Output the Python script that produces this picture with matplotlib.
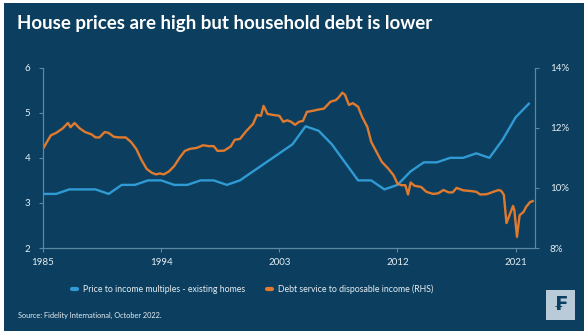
import matplotlib
matplotlib.use("Agg")
import matplotlib.pyplot as plt
from matplotlib.lines import Line2D
from matplotlib.patches import Rectangle

plt.rcParams['font.family'] = ['Lato', 'DejaVu Sans']

# ---- data ----
price_years = list(range(1985, 2023))
price_income = [3.2, 3.2, 3.3, 3.3, 3.3, 3.2, 3.4, 3.4, 3.5, 3.5,
                3.4, 3.4, 3.5, 3.5, 3.4, 3.5, 3.7, 3.9, 4.1, 4.3,
                4.7, 4.6, 4.3, 3.9, 3.5, 3.5, 3.3, 3.4, 3.7, 3.9,
                3.9, 4.0, 4.0, 4.1, 4.0, 4.4, 4.9, 5.2]

debt_t = [1985.0, 1985.3, 1985.6, 1986.0, 1986.5, 1986.9, 1987.1, 1987.4, 1987.8, 1988.2,
          1988.7, 1989.0, 1989.3, 1989.7, 1990.0, 1990.4, 1990.8, 1991.3, 1991.7, 1992.1,
          1992.5, 1992.9, 1993.3, 1993.6, 1993.9, 1994.2, 1994.6, 1995.0, 1995.4, 1995.8,
          1996.2, 1996.7, 1997.2, 1997.6, 1998.0, 1998.3, 1998.8, 1999.3, 1999.6, 2000.0,
          2000.5, 2001.0, 2001.3, 2001.6, 2001.8, 2002.1, 2002.5, 2003.0, 2003.3, 2003.6,
          2003.9, 2004.2, 2004.5, 2004.8, 2005.1, 2005.5, 2005.9, 2006.4, 2006.9, 2007.3,
          2007.5, 2007.8, 2008.0, 2008.3, 2008.6, 2009.0, 2009.3, 2009.7, 2010.0, 2010.4,
          2010.8, 2011.3, 2011.7, 2012.0, 2012.3, 2012.6, 2012.8, 2013.0, 2013.3, 2013.8,
          2014.2, 2014.7, 2015.1, 2015.5, 2015.9, 2016.2, 2016.5, 2017.0, 2017.7, 2018.0,
          2018.3, 2018.8, 2019.3, 2019.7, 2019.9, 2020.1, 2020.3, 2020.8, 2020.9, 2021.1,
          2021.3, 2021.6, 2021.8, 2022.1, 2022.3]
debt_service = [11.3, 11.53, 11.75, 11.83, 11.98, 12.16, 12.02, 12.16, 11.98, 11.86,
                11.78, 11.68, 11.68, 11.86, 11.83, 11.7, 11.68, 11.68, 11.53, 11.3,
                10.93, 10.63, 10.5, 10.45, 10.48, 10.45, 10.55, 10.73, 11.0, 11.23,
                11.3, 11.33, 11.42, 11.39, 11.39, 11.23, 11.24, 11.38, 11.6, 11.63,
                11.9, 12.13, 12.43, 12.4, 12.73, 12.46, 12.43, 12.4, 12.2, 12.25,
                12.2, 12.1, 12.2, 12.23, 12.53, 12.56, 12.6, 12.64, 12.87, 12.92,
                13.0, 13.17, 13.1, 12.76, 12.82, 12.7, 12.37, 12.03, 11.53, 11.2,
                10.87, 10.64, 10.42, 10.14, 10.09, 10.09, 9.78, 10.18, 10.07, 10.03,
                9.87, 9.8, 9.82, 9.93, 9.85, 9.85, 10.0, 9.92, 9.89, 9.87,
                9.78, 9.79, 9.87, 9.93, 9.9, 9.77, 8.83, 9.4, 9.26, 8.37,
                9.09, 9.2, 9.37, 9.53, 9.56]

x_ticks = [1985, 1994, 2003, 2012, 2021]
left_ticks = [2, 3, 4, 5, 6]
right_ticks = [8, 10, 12, 14]
right_labels = ['8%', '10%', '12%', '14%']

title = "House prices are high but household debt is lower"
label_price = "Price to income multiples - existing homes"
label_debt = "Debt service to disposable income (RHS)"
source = "Source: Fidelity International, October 2022."

# ---- style ----
BG = '#0c3f5f'
BLUE = '#2f9ad3'
ORANGE = '#e07a2e'
AXIS = '#5d88a3'
TXT = '#e6eef3'

W, H = 584, 331
fig = plt.figure(figsize=(W / 100, H / 100), dpi=100, facecolor='white')
fig.patches.append(Rectangle((4 / W, 0), 1 - 4 / W, 1 - 3 / H, transform=fig.transFigure,
                             facecolor=BG, edgecolor='none', zorder=-10))

ax = fig.add_axes([43 / W, 1 - 248 / H, (534.7 - 43) / W, (248 - 67.7) / H])
ax.set_facecolor('none')
ax2 = ax.twinx()

ax.plot(price_years, price_income, color=BLUE, lw=1.7, solid_joinstyle='round')
ax2.plot(debt_t, debt_service, color=ORANGE, lw=1.7, solid_joinstyle='round')

ax.set_xlim(1985, 2022.45)
ax.set_ylim(2, 6)
ax2.set_ylim(8, 14)
ax.set_xticks(x_ticks)
ax.set_xticklabels([str(t) for t in x_ticks])
ax.set_yticks(left_ticks)
ax.set_yticklabels([str(t) for t in left_ticks])
ax2.set_yticks(right_ticks)
ax2.set_yticklabels(right_labels)

for a in (ax, ax2):
    a.spines['top'].set_visible(False)
    for side in ('left', 'right', 'bottom'):
        a.spines[side].set_color(AXIS)
        a.spines[side].set_linewidth(0.8)
    a.tick_params(colors=AXIS, labelcolor=TXT, labelsize=7, length=3, width=0.8)
ax.tick_params(axis='x', pad=4)
ax.tick_params(axis='y', pad=6)
ax2.tick_params(axis='y', pad=8)

fig.text(17 / W, 1 - 24 / H, title, color='white', fontsize=13.5, fontweight='bold',
         va='center', ha='left')

handles = [Line2D([0], [0], color=BLUE, lw=3, solid_capstyle='round'),
           Line2D([0], [0], color=ORANGE, lw=3, solid_capstyle='round')]
leg = fig.legend(handles, [label_price, label_debt], loc='center',
                 bbox_to_anchor=(253 / W, 1 - 289 / H), ncol=2, frameon=False,
                 handlelength=0.55, handletextpad=0.7, columnspacing=2.5,
                 fontsize=6.3, labelcolor=TXT)

fig.text(18 / W, 1 - 315 / H, source, color=TXT, fontsize=5.3, va='center', ha='left')

fig.patches.append(Rectangle((546 / W, 1 - 320 / H), 29 / W, 30 / H, transform=fig.transFigure,
                             facecolor='#b9cbd8', edgecolor='none', zorder=5))
fig.text(560.5 / W, 1 - 305 / H, '\u20a3', color=BG, fontsize=14, fontweight='bold',
         ha='center', va='center', family='DejaVu Sans', zorder=6)

fig.savefig('out.png', dpi=100, facecolor='white')
